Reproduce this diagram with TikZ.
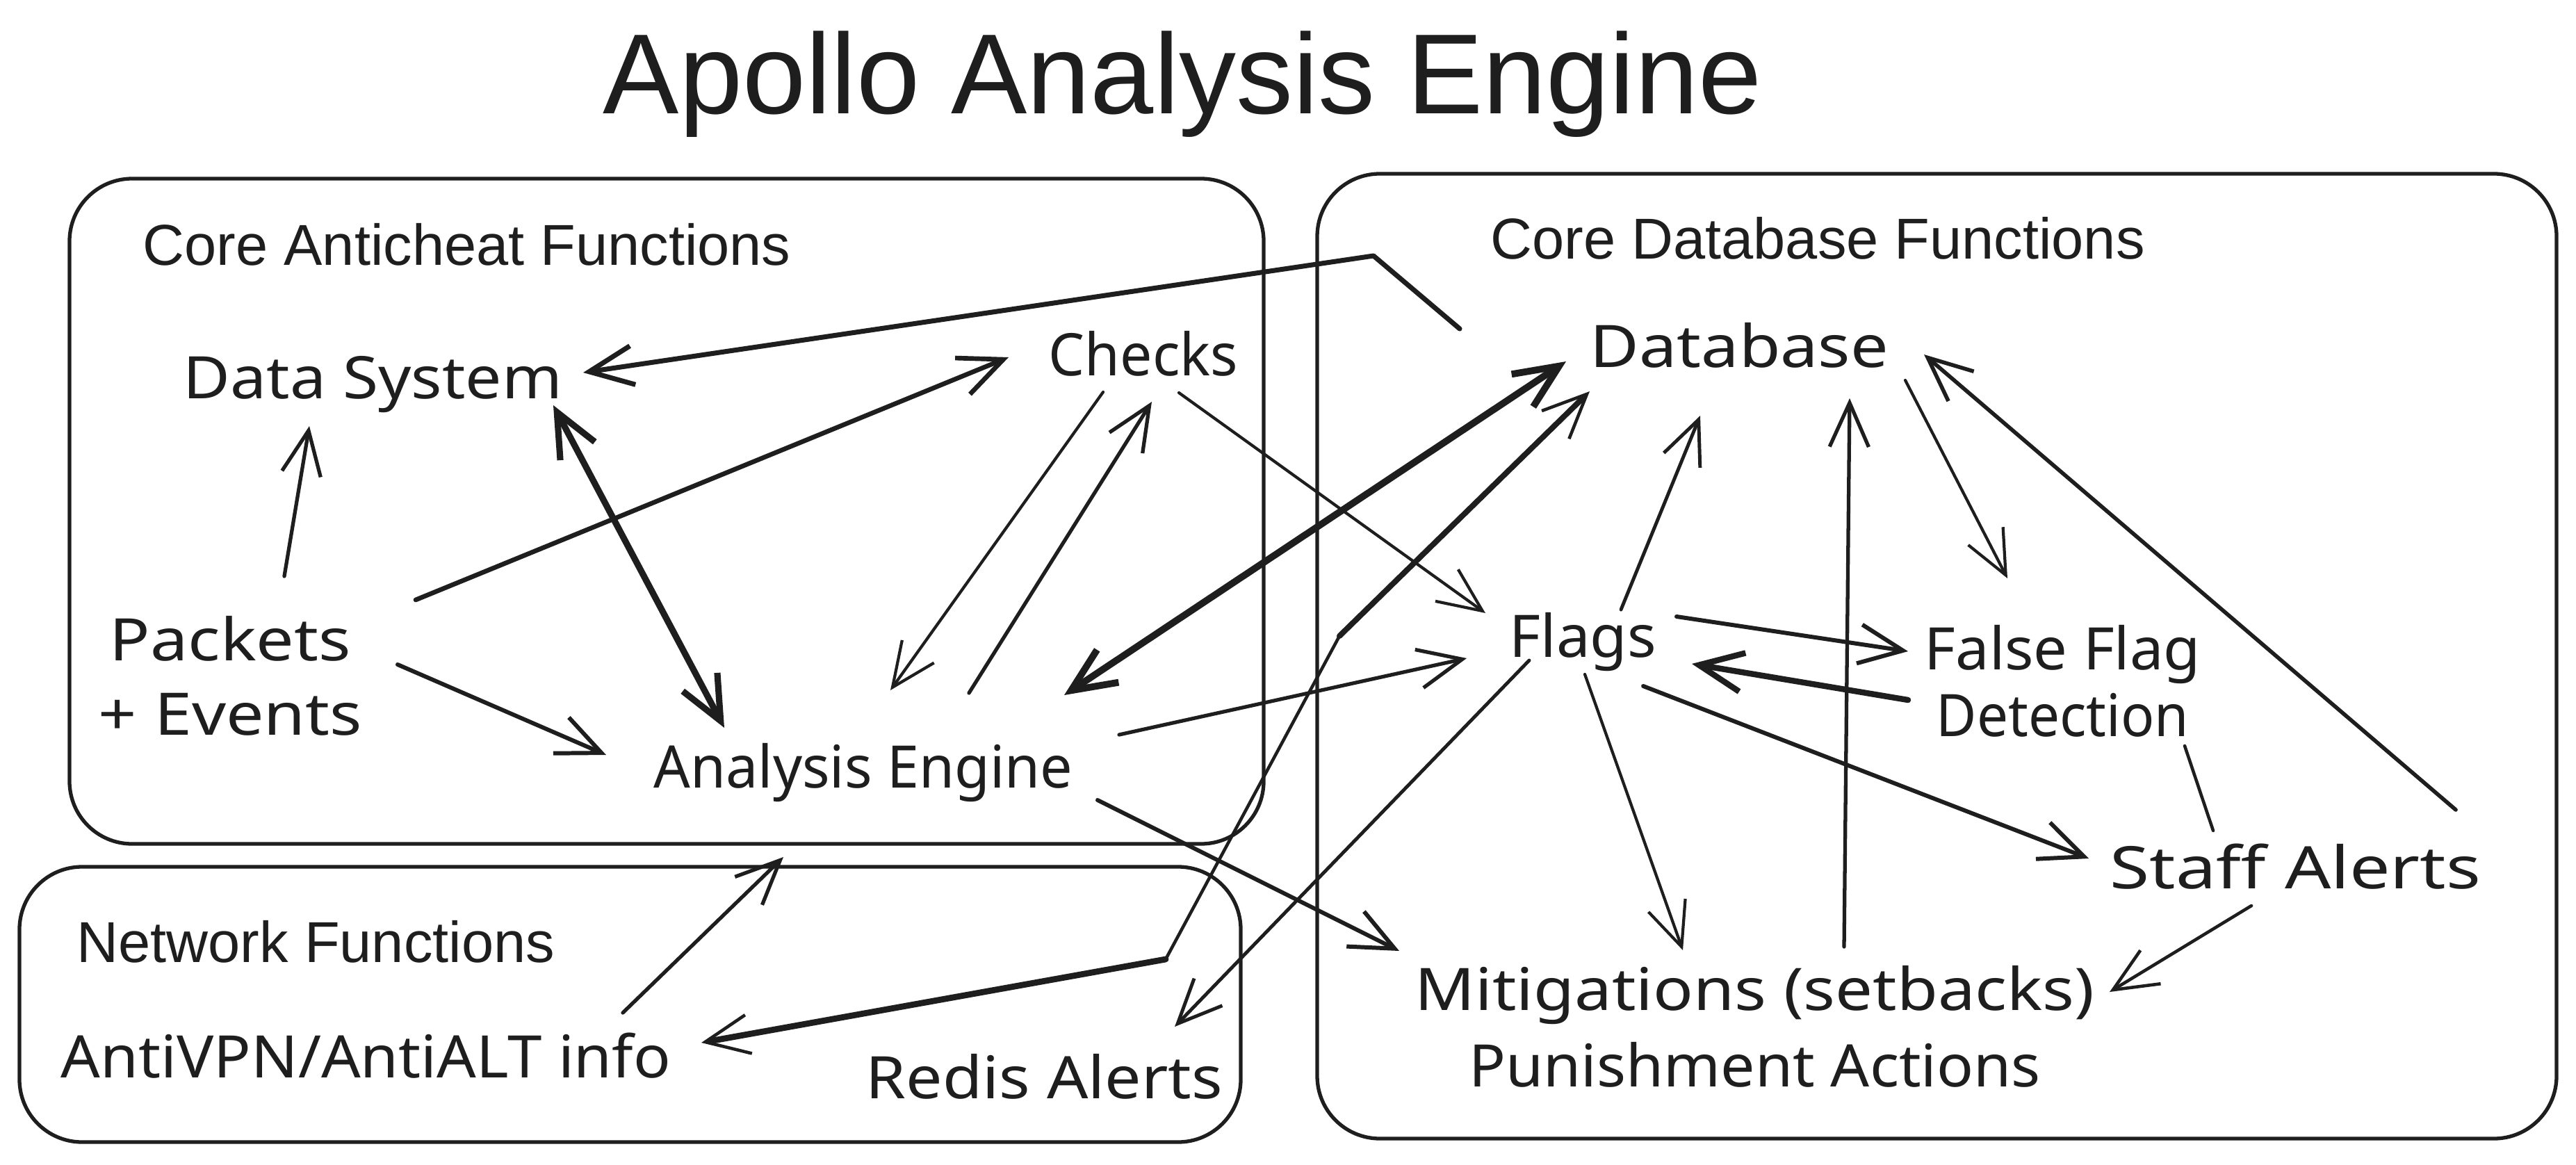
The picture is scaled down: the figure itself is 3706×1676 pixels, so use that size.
\documentclass[tikz,border=0pt]{standalone}
\usepackage{fontspec}
\setmainfont{Liberation Sans}
\newfontfamily\handfont{Noto Sans}
\usetikzlibrary{arrows.meta}
\definecolor{ink}{HTML}{1E1E1E}
\newcommand\hw[2]{\resizebox{#1}{\height}{#2}}
\newcommand\twolines[3]{\vtop{\baselineskip=#1\relax\lineskiplimit=-100pt\halign{\hfil##\hfil\cr#2\cr#3\cr}}}
\begin{document}
\begin{tikzpicture}[x=0.01cm,y=-0.01cm,
  box/.style={draw=ink,line width=1.5pt,rounded corners=0.9cm},
  lbl/.style={inner sep=0pt,anchor=base west,text=ink,font=\fontsize{23.6pt}{28pt}\selectfont},
  hand/.style={inner sep=0pt,anchor=base west,text=ink,font=\handfont\fontsize{24pt}{30pt}\selectfont},
  conn/.style={draw=ink,line cap=round,line join=round},
  arr/.style={conn,-{Straight Barb[length=18pt,width=16pt]}},
  darr/.style={conn,{Straight Barb[length=18pt,width=16pt]}-{Straight Barb[length=18pt,width=16pt]}}]
\useasboundingbox (0,0) rectangle (3706,1676);
\fill[white] (0,0) rectangle (3706,1676);

% containers
\draw[box] (100,257) rectangle (1818,1214);
\draw[box] (1895,250) rectangle (3678,1638);
\draw[box] (28,1247) rectangle (1785,1643);

% labels
\node[lbl,font=\fontsize{46.6pt}{56pt}\selectfont] (title) at (867,164) {Apollo Analysis Engine};
\node[lbl] (coreac) at (205,381) {Core Anticheat Functions};
\node[lbl] (coredb) at (2144,372) {Core Database Functions};
\node[lbl] (netf) at (110,1384) {Network Functions};

% handwritten nodes
\node[hand] (datasys) at (263,573) {\hw{5.45cm}{Data System}};
\node[hand] (checks) at (1508,540) {\hw{2.72cm}{Checks}};
\node[hand] (packets) at (141,950) {\twolines{1.07cm}{\hw{3.47cm}{Packets}}{\hw{3.79cm}{+ Events}}};
\node[hand] (analysis) at (940,1133) {\hw{6.02cm}{Analysis Engine}};
\node[hand] (database) at (2287,528) {\hw{4.29cm}{Database}};
\node[hand] (flags) at (2171,945) {\hw{2.11cm}{Flags}};
\node[hand] (falseflag) at (2768,963) {\twolines{0.96cm}{\hw{3.97cm}{False Flag}}{\hw{3.63cm}{Detection}}};
\node[hand] (staff) at (3035,1278) {\hw{5.33cm}{Staff Alerts}};
\node[hand] (mitig) at (2035,1453) {\twolines{1.10cm}{\hw{9.77cm}{Mitigations (setbacks)}}{\hw{8.22cm}{Punishment Actions}}};
\node[hand] (antivpn) at (87,1550) {\hw{8.77cm}{AntiVPN/AntiALT info}};
\node[hand] (redis) at (1245,1580) {\hw{5.13cm}{Redis Alerts}};

% connectors
\draw[arr,line width=1.5pt] ([shift={(268,-121)}]packets.base west) -- ([shift={(182,40)}]datasys.base west);
\draw[arr,line width=1.9pt] ([shift={(457,-87)}]packets.base west) -- ([shift={(-57,-26)}]checks.base west);
\draw[arr,line width=1.7pt] ([shift={(431,6)}]packets.base west) -- ([shift={(-68,-47)}]analysis.base west);
\draw[darr,line width=2.6pt] ([shift={(533,10)}]datasys.base west) -- ([shift={(102,-86)}]analysis.base west);
\draw[arr,line width=1.2pt] ([shift={(79,24)}]checks.base west) -- ([shift={(341,-140)}]analysis.base west);
\draw[arr,line width=1.5pt] ([shift={(454,-136)}]analysis.base west) -- ([shift={(149,38)}]checks.base west);
\draw[arr,line width=1.2pt] ([shift={(188,25)}]checks.base west) -- ([shift={(-34,-63)}]flags.base west);
\draw[arr,line width=1.5pt] ([shift={(670,-76)}]analysis.base west) -- ([shift={(-61,2)}]flags.base west);
\draw[darr,line width=2.8pt] ([shift={(591,-133)}]analysis.base west) -- ([shift={(-34,-8)}]database.base west);
\draw[arr,line width=1.7pt] ([shift={(639,18)}]analysis.base west) -- ([shift={(-22,-85)}]mitig.base west);
\draw[arr,line width=1.4pt] ([shift={(161,-68)}]flags.base west) -- ([shift={(159,70)}]database.base west);
\draw[arr,line width=1.2pt] ([shift={(454,19)}]database.base west) -- ([shift={(120,-131)}]falseflag.base west);
\draw[arr,line width=1.6pt] ([shift={(498,-113)}]staff.base west) -- ([shift={(481,-18)}]database.base west);
\draw[arr,line width=1.5pt] ([shift={(618,-91)}]mitig.base west) -- ([shift={(374,45)}]database.base west);
\draw[arr,line width=1.7pt] ([shift={(241,-58)}]flags.base west) -- ([shift={(-23,-26)}]falseflag.base west);
\draw[arr,line width=2.4pt] ([shift={(-23,44)}]falseflag.base west) -- ([shift={(263,10)}]flags.base west);
\draw[arr,line width=1.2pt] ([shift={(109,25)}]flags.base west) -- ([shift={(386,-86)}]mitig.base west);
\draw[arr,line width=1.7pt] ([shift={(193,42)}]flags.base west) -- ([shift={(-30,-43)}]staff.base west);
\draw[conn,line width=1.3pt] ([shift={(375,110)}]falseflag.base west) -- ([shift={(149,-83)}]staff.base west);
\draw[arr,line width=1.3pt] ([shift={(204,25)}]staff.base west) -- ([shift={(1000,-26)}]mitig.base west);
\draw[arr,line width=1.4pt] ([shift={(29,5)}]flags.base west) -- ([shift={(445,-103)}]redis.base west);
\draw[arr,line width=1.5pt] ([shift={(809,-93)}]antivpn.base west) -- ([shift={(187,100)}]analysis.base west);

% elbow: AntiVPN <-> Database
\coordinate (rc1) at (1677,1380);
\coordinate (rc2) at (1927,915);
\draw[darr,line width=1.3pt] ([shift={(922,-50)}]antivpn.base west) -- (rc1) -- (rc2) -- ([shift={(0,35)}]database.base west);
\draw[conn,line width=2.5pt,shorten >=4pt] (rc1) -- ([shift={(922,-50)}]antivpn.base west);
\draw[conn,line width=2.3pt,shorten >=4pt] (rc2) -- ([shift={(0,35)}]database.base west);

% elbow: Database -> Data System
\coordinate (dc) at (1976,368);
\draw[arr,line width=2pt] ([shift={(-187,-55)}]database.base west) -- (dc) -- ([shift={(576,-37)}]datasys.base west);
\end{tikzpicture}
\end{document}
